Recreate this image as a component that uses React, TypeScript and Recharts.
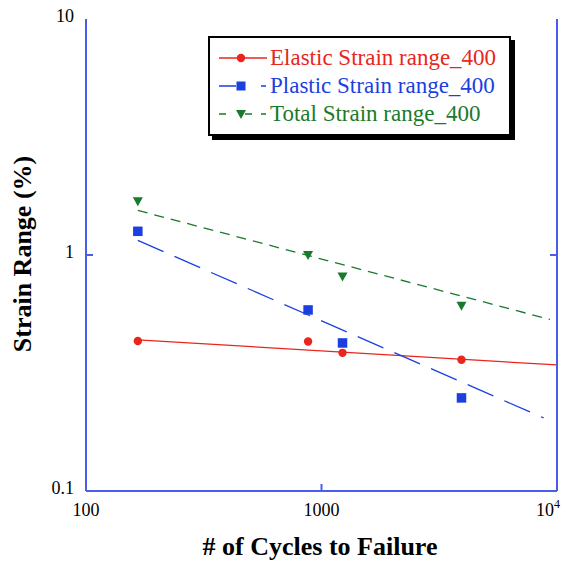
import React from "react";
import { ComposedChart, Line, Scatter, XAxis, YAxis } from "recharts";

// measured values (log-log)
const cycles = [166, 877, 1228, 3930];
const elastic = [0.432, 0.43, 0.385, 0.36];
const plastic = [1.26, 0.585, 0.424, 0.248];
const total = [1.69, 1.0, 0.81, 0.61];

// power-law fit lines, end points
const elasticFitX = [166, 10000];
const elasticFitY = [0.437, 0.342];
const plasticFitX = [166, 8770];
const plasticFitY = [1.153, 0.204];
const totalFitX = [166, 9340];
const totalFitY = [1.545, 0.533];

const xTicks = [100, 1000, 10000];
const yTicks = [0.1, 1, 10];

const RED = "#e8261c";
const BLUE = "#1b3fe0";
const GREEN = "#1a7a2c";
const FRAME = "#4a5cf0";
const FONT = "'Liberation Serif', 'Times New Roman', serif";

const pts = (xs: number[], ys: number[]) => xs.map((x, i) => ({ x, y: ys[i] }));

const elasticPts = pts(cycles, elastic);
const plasticPts = pts(cycles, plastic);
const totalPts = pts(cycles, total);
const elasticFit = pts(elasticFitX, elasticFitY);
const plasticFit = pts(plasticFitX, plasticFitY);
const totalFit = pts(totalFitX, totalFitY);

const tickText = { fontFamily: FONT, fontSize: 18, fill: "#000" };

const Circle = (p: any) => <circle cx={p.cx} cy={p.cy} r={4.2} fill={RED} />;
const Square = (p: any) => (
  <rect x={p.cx - 4.75} y={p.cy - 4.75} width={9.5} height={9.5} fill={BLUE} />
);
const Tri = (p: any) => (
  <path
    d={`M${p.cx - 5},${p.cy - 4} L${p.cx + 5},${p.cy - 4} L${p.cx},${p.cy + 5} Z`}
    fill={GREEN}
  />
);

const BottomTick = ({ x, y, payload }: any) => {
  const v = payload.value;
  return (
    <g>
      {v > 100 && v < 10000 && (
        <line x1={x} x2={x} y1={y} y2={y - 7} stroke={FRAME} strokeWidth={2} />
      )}
      <text x={x} y={y + 25} textAnchor="middle" style={tickText}>
        {v === 10000 ? (
          <>
            10<tspan dy={-8} style={{ fontSize: 12 }}>4</tspan>
          </>
        ) : (
          String(v)
        )}
      </text>
    </g>
  );
};

const TopTick = ({ x, y, payload }: any) =>
  payload.value > 100 && payload.value < 10000 ? (
    <line x1={x} x2={x} y1={y} y2={y + 7} stroke={FRAME} strokeWidth={2} />
  ) : (
    <g />
  );

const LeftTick = ({ x, y, payload }: any) => {
  const v = payload.value;
  return (
    <g>
      {v > 0.1 && v < 10 && (
        <line x1={x} x2={x + 7} y1={y} y2={y} stroke={FRAME} strokeWidth={2} />
      )}
      <text x={x - 12} y={y + 3} textAnchor="end" style={tickText}>
        {String(v)}
      </text>
    </g>
  );
};

const RightTick = ({ x, y, payload }: any) =>
  payload.value > 0.1 && payload.value < 10 ? (
    <line x1={x} x2={x - 7} y1={y} y2={y} stroke={FRAME} strokeWidth={2} />
  ) : (
    <g />
  );

const legendRows = [
  { label: "Elastic Strain range_400", color: RED, dash: undefined, marker: "circle" },
  { label: "Plastic Strain range_400", color: BLUE, dash: "17 25 5 100", marker: "square" },
  { label: "Total Strain range_400", color: GREEN, dash: "7 19 7 9 5 100", marker: "tri" },
];

const LegendBox = () => (
  <div
    style={{
      position: "absolute",
      left: 208,
      top: 36,
      width: 299,
      height: 96,
      border: "2px solid #000",
      boxShadow: "4px 4px 0 #000",
      background: "#fff",
      fontFamily: FONT,
      fontSize: 23,
    }}
  >
    {legendRows.map((r, i) => (
      <div
        key={r.label}
        style={{ position: "absolute", left: 0, top: 6 + i * 28, height: 28, display: "flex", alignItems: "center" }}
      >
        <svg width={60} height={28} style={{ display: "block" }}>
          <line x1={9} x2={57} y1={14} y2={14} stroke={r.color} strokeWidth={1.3} strokeDasharray={r.dash} />
          {r.marker === "circle" && <circle cx={31} cy={14} r={4.2} fill={r.color} />}
          {r.marker === "square" && <rect x={26.5} y={9.5} width={9} height={9} fill={r.color} />}
          {r.marker === "tri" && <path d="M26,10 L36,10 L31,19 Z" fill={r.color} />}
        </svg>
        <span style={{ color: r.color, whiteSpace: "nowrap", lineHeight: "28px" }}>{r.label}</span>
      </div>
    ))}
  </div>
);

export default function App() {
  return (
    <div style={{ position: "absolute", left: 0, top: 0, width: 568, height: 561, background: "#fff" }}>
      <ComposedChart width={568} height={561} margin={{ top: 19, right: 0, bottom: 0, left: 20 }}>
        <XAxis
          xAxisId="b"
          dataKey="x"
          type="number"
          scale="log"
          domain={[100, 10000]}
          ticks={xTicks}
          allowDataOverflow
          height={70}
          tickSize={0}
          tickMargin={0}
          tickLine={false}
          tick={BottomTick}
          axisLine={{ stroke: FRAME, strokeWidth: 2 }}
        />
        <XAxis
          xAxisId="t"
          dataKey="x"
          orientation="top"
          type="number"
          scale="log"
          domain={[100, 10000]}
          ticks={xTicks}
          allowDataOverflow
          height={0}
          tickSize={0}
          tickMargin={0}
          tickLine={false}
          tick={TopTick}
          axisLine={{ stroke: FRAME, strokeWidth: 2 }}
        />
        <YAxis
          yAxisId="l"
          type="number"
          scale="log"
          domain={[0.1, 10]}
          ticks={yTicks}
          allowDataOverflow
          width={66}
          tickSize={0}
          tickMargin={0}
          tickLine={false}
          tick={LeftTick}
          axisLine={{ stroke: FRAME, strokeWidth: 2 }}
        />
        <YAxis
          yAxisId="r"
          orientation="right"
          type="number"
          scale="log"
          domain={[0.1, 10]}
          ticks={yTicks}
          allowDataOverflow
          width={11}
          tickSize={0}
          tickMargin={0}
          tickLine={false}
          tick={RightTick}
          axisLine={{ stroke: FRAME, strokeWidth: 2 }}
        />
        <Line xAxisId="b" yAxisId="l" data={elasticFit} dataKey="y" stroke={RED} strokeWidth={1.3} dot={false} isAnimationActive={false} />
        <Line xAxisId="b" yAxisId="l" data={plasticFit} dataKey="y" stroke={BLUE} strokeWidth={1.3} strokeDasharray="28 12" dot={false} isAnimationActive={false} />
        <Line xAxisId="b" yAxisId="l" data={totalFit} dataKey="y" stroke={GREEN} strokeWidth={1.3} strokeDasharray="10 7" dot={false} isAnimationActive={false} />
        <Scatter xAxisId="b" yAxisId="l" data={elasticPts} dataKey="y" shape={Circle} isAnimationActive={false} />
        <Scatter xAxisId="b" yAxisId="l" data={plasticPts} dataKey="y" shape={Square} isAnimationActive={false} />
        <Scatter xAxisId="b" yAxisId="l" data={totalPts} dataKey="y" shape={Tri} isAnimationActive={false} />
      </ComposedChart>
      <LegendBox />
      <div
        style={{
          position: "absolute",
          left: 320,
          top: 547,
          transform: "translate(-50%, -50%)",
          fontFamily: FONT,
          fontWeight: "bold",
          fontSize: 26,
          whiteSpace: "nowrap",
          lineHeight: 1,
        }}
      >
        # of Cycles to Failure
      </div>
      <div
        style={{
          position: "absolute",
          left: 23,
          top: 254,
          transform: "translate(-50%, -50%) rotate(-90deg)",
          fontFamily: FONT,
          fontWeight: "bold",
          fontSize: 26,
          whiteSpace: "nowrap",
          lineHeight: 1,
        }}
      >
        Strain Range (%)
      </div>
    </div>
  );
}
